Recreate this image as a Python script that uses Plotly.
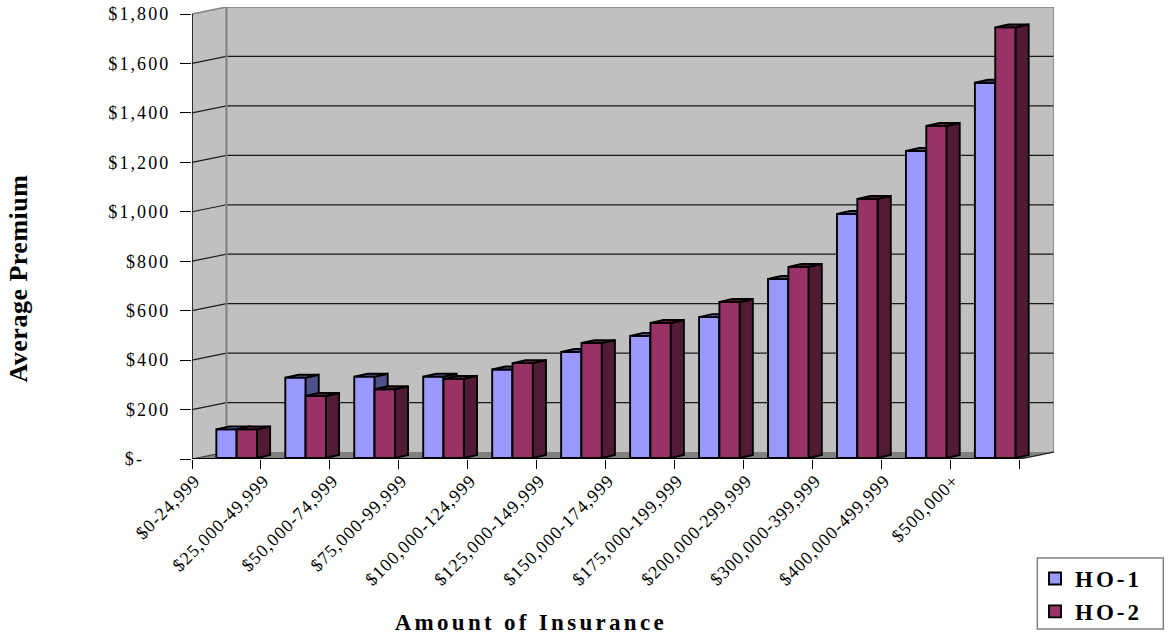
import plotly.graph_objects as go

# Premium data by amount-of-insurance band
categories = ["$0-24,999", "$25,000-49,999", "$50,000-74,999", "$75,000-99,999",
              "$100,000-124,999", "$125,000-149,999", "$150,000-174,999",
              "$175,000-199,999", "$200,000-299,999", "$300,000-399,999",
              "$400,000-499,999", "$500,000+"]
ho1 = [116, 325, 329, 329, 358, 429, 494, 570, 724, 987, 1242, 1518]
ho2 = [116, 251, 278, 320, 384, 465, 546, 631, 773, 1048, 1343, 1742]
y_ticks = [0, 200, 400, 600, 800, 1000, 1200, 1400, 1600, 1800]
y_labels = ["$-\u00a0\u00a0\u00a0\u00a0", "$200", "$400", "$600", "$800", "$1,000", "$1,200", "$1,400", "$1,600", "$1,800"]

# Oblique projection of the chart box, expressed in axis units
WALL_DX, WALL_DY = 0.5, 28.3      # back wall offset from the front edge
BAR_DX, BAR_DY = 0.19, 12.0       # depth of one column
BAR_W = 0.295
BAR_LEFT = 0.353
BAR_BASE = 4.0
N = len(categories)
TOP = y_ticks[-1]

# Plot area in figure pixels
PLOT_L, PLOT_R, PLOT_T, PLOT_B = 191.7, 1053.7, 7, 459
PLOT_W, PLOT_H = PLOT_R - PLOT_L, PLOT_B - PLOT_T


def paper_x(px):
    return (px - PLOT_L) / PLOT_W


def paper_y(px):
    return (PLOT_B - px) / PLOT_H


WALL = "#C0C0C0"
FLOOR = "#808080"
EDGE = "#808080"
SERIF = "Liberation Serif"

fig = go.Figure()


def poly(xs, ys, fill, line_color, width, axes=("x", "y")):
    return go.Scatter(x=xs, y=ys, mode="lines", fill="toself", fillcolor=fill,
                      line=dict(color=line_color, width=width), hoverinfo="skip",
                      showlegend=False, cliponaxis=False, xaxis=axes[0], yaxis=axes[1])


def line(xs, ys, color, width):
    return go.Scatter(x=xs, y=ys, mode="lines", line=dict(color=color, width=width),
                      hoverinfo="skip", showlegend=False, cliponaxis=False,
                      xaxis="x", yaxis="y")


# Chart box: side wall, back wall, floor
fig.add_trace(poly([0, WALL_DX, WALL_DX, 0, 0],
                   [0, WALL_DY, TOP + WALL_DY, TOP, 0], WALL, WALL, 0))
fig.add_trace(poly([WALL_DX, N + WALL_DX, N + WALL_DX, WALL_DX, WALL_DX],
                   [WALL_DY, WALL_DY, TOP + WALL_DY, TOP + WALL_DY, WALL_DY], WALL, WALL, 0))
fig.add_trace(poly([0, N, N + WALL_DX, WALL_DX, 0],
                   [0, 0, WALL_DY, WALL_DY, 0], FLOOR, FLOOR, 0))

# Gridlines wrap from the side wall onto the back wall
for v in y_ticks[1:-1]:
    fig.add_trace(line([0, WALL_DX, N + WALL_DX], [v, v + WALL_DY, v + WALL_DY], "#1a1a1a", 1.2))

# Box edges
fig.add_trace(line([0, WALL_DX, N + WALL_DX, N + WALL_DX, N],
                   [TOP, TOP + WALL_DY, TOP + WALL_DY, WALL_DY, 0], EDGE, 1.6))
fig.add_trace(line([WALL_DX, WALL_DX], [WALL_DY, TOP + WALL_DY], EDGE, 2))
fig.add_trace(line([N, N + WALL_DX], [0, WALL_DY], "#1a1a1a", 1))
fig.add_trace(line([0, WALL_DX], [0, WALL_DY], "#1a1a1a", 0.8))
fig.add_trace(line([0, 0], [0, TOP], "#000000", 1.5))
fig.add_trace(line([0, N], [0, 0], "#000000", 2))


def add_series(name, values, slot, face, dark, axes):
    left = [i + BAR_LEFT + slot * BAR_W for i in range(N)]
    # Front faces are ordinary bars; depth faces are projected from the same values
    fig.add_trace(go.Bar(name=name, x=[l + BAR_W / 2 for l in left], y=values,
                         base=[BAR_BASE] * N, width=BAR_W,
                         marker=dict(color=face, line=dict(color="#000000", width=1.9)),
                         cliponaxis=False, xaxis=axes[0], yaxis=axes[1]))
    sx, sy, tx, ty = [], [], [], []
    for l, v in zip(left, values):
        r = l + BAR_W
        t = BAR_BASE + v
        sx += [r, r + BAR_DX, r + BAR_DX, r, r, None]
        sy += [BAR_BASE, BAR_BASE + BAR_DY, t + BAR_DY, t, BAR_BASE, None]
        tx += [l, l + BAR_DX, r + BAR_DX, r, l, None]
        ty += [t, t + BAR_DY, t + BAR_DY, t, t, None]
    fig.add_trace(poly(sx, sy, dark, "#000000", 1.9, axes))
    fig.add_trace(poly(tx, ty, dark, "#000000", 1.9, axes))


# Each series sits on its own overlay so HO-2 hides the depth faces of HO-1
add_series("HO-1", ho1, 0, "#9999FF", "#50508A", ("x2", "y2"))
add_series("HO-2", ho2, 1, "#993366", "#511B35", ("x3", "y3"))

x_range = [0, N + WALL_DX]
y_range = [0, TOP + WALL_DY]
hidden = dict(visible=False, fixedrange=True, automargin=False)

fig.update_layout(
    width=1168, height=640, autosize=False,
    margin=dict(l=PLOT_L, r=1168 - PLOT_R, t=PLOT_T, b=640 - PLOT_B),
    paper_bgcolor="#FFFFFF", plot_bgcolor="#FFFFFF",
    barmode="overlay",
    font=dict(family=SERIF, color="#000000"),
    xaxis=dict(range=x_range, tickmode="array", tickvals=list(range(N + 1)),
               ticktext=categories + [""], tickangle=-45, ticks="outside", ticklen=9,
               tickwidth=1, tickcolor="#000000", showgrid=False, zeroline=False,
               showline=False, tickfont=dict(family=SERIF, size=18), automargin=False,
               ticklabelshift=3, ticklabelstandoff=-6),
    yaxis=dict(range=y_range, tickmode="array", tickvals=y_ticks, ticktext=y_labels,
               ticks="outside", ticklen=11, tickwidth=1, tickcolor="#000000",
               showgrid=False, zeroline=False, showline=False, automargin=False,
               tickfont=dict(family=SERIF, size=18), ticklabelstandoff=6),
    xaxis2=dict(range=x_range, overlaying="x", anchor="y2", **hidden),
    yaxis2=dict(range=y_range, overlaying="y", anchor="x2", **hidden),
    xaxis3=dict(range=x_range, overlaying="x", anchor="y3", **hidden),
    yaxis3=dict(range=y_range, overlaying="y", anchor="x3", **hidden),
    # Laid out clear of the plot area so it reserves no margin; the stylesheet below seats it
    legend=dict(xref="container", yref="container", x=1060 / 1168, xanchor="left",
                y=1 - 557 / 640, yanchor="top",
                bgcolor="rgba(0,0,0,0)", borderwidth=0,
                font=dict(family=SERIF, size=23, color="#000000", weight="bold"),
                traceorder="normal", itemclick=False, itemdoubleclick=False),
    # Frame behind the legend entries
    shapes=[dict(type="rect", xref="paper", yref="paper",
                 x0=paper_x(1037), x1=paper_x(1163), y0=paper_y(629), y1=paper_y(558),
                 fillcolor="#FFFFFF", line=dict(color="#808080", width=1.5))],
    annotations=[
        dict(text="Amount of Insurance", xref="paper", yref="paper", x=paper_x(530.5),
             y=paper_y(622), xanchor="center", yanchor="middle", showarrow=False,
             font=dict(family=SERIF, size=23, color="#000000", weight="bold")),
        dict(text="Average Premium", xref="paper", yref="paper", x=paper_x(18),
             y=paper_y(278.5), xanchor="center", yanchor="middle", showarrow=False,
             textangle=-90, font=dict(family=SERIF, size=26, color="#000000", weight="bold")),
    ],
)

# Wider tracking on the text and larger legend swatches than the defaults
style = (
    ".ytick text{letter-spacing:2.1px}"
    ".xtick text{letter-spacing:1px}"
    ".annotation[data-index=\"0\"] .annotation-text{letter-spacing:3.3px}"
    ".annotation[data-index=\"1\"] .annotation-text{letter-spacing:0.5px}"
    ".legendtext{letter-spacing:3px}"
    ".legend{transform:translate(1035px,557px)}"
    ".legend .scrollbox{clip-path:none}"
    ".legendbar{transform:translate(15px,0) scale(2.15);stroke-width:0.9px !important}"
)
fig.write_html("out.html", post_script=f"document.head.insertAdjacentHTML('beforeend','<style>{style}</style>');")
